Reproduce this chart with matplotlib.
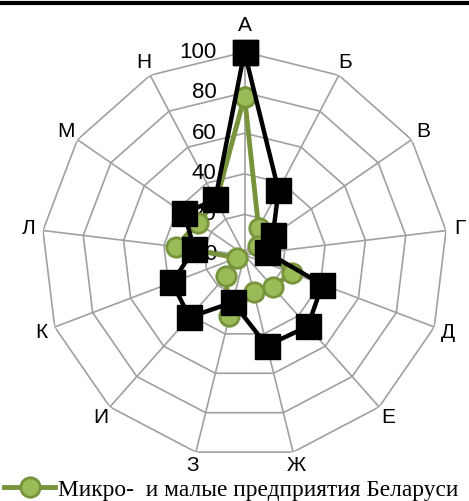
import numpy as np
import matplotlib
matplotlib.use('Agg')
import matplotlib.pyplot as plt
from matplotlib.lines import Line2D

# categories (clockwise from top) and values
categories = ['А', 'Б', 'В', 'Г', 'Д', 'Е', 'Ж', 'З', 'И', 'К', 'Л', 'М', 'Н']
belarus_small = [78, 15, 8, 10, 25, 21, 19, 31, 14, 4, 34, 28, 30]
other_series = [100, 36, 17, 11, 41, 47, 46, 24, 41, 38, 25, 36, 31]
ring_values = [0, 20, 40, 60, 80, 100]
legend_label = 'Микро-  и малые предприятия Беларуси'

GREEN_LINE = '#77933C'
GREEN_FILL = '#9BBB59'
GRID = '#A0A0A0'

W, H = 469, 501
fig = plt.figure(figsize=(W / 100, H / 100), dpi=100)

# polar axes placed so centre sits at (244.5, 255) px with radius 203 px
cx, cy, R = 244.5, 255, 203
ax = fig.add_axes([(cx - R) / W, (H - cy - R) / H, 2 * R / W, 2 * R / H],
                  projection='polar')
ax.set_theta_zero_location('N')
ax.set_theta_direction(-1)
ax.set_ylim(0, 100)
ax.grid(False)
ax.set_xticks([])
ax.set_yticks([])
ax.spines['polar'].set_visible(False)
ax.patch.set_alpha(0)

n = len(categories)
theta = np.arange(n) * 2 * np.pi / n
theta_c = np.append(theta, theta[0])

# polygon grid
for v in ring_values[1:]:
    ax.plot(theta_c, [v] * (n + 1), color=GRID, lw=1.2, zorder=1)
for t in theta:
    ax.plot([t, t], [0, 100], color=GRID, lw=1.2, zorder=1)

# ring labels
for v in ring_values:
    ax.annotate(str(v), xy=(0, v), xytext=(-20, 0), textcoords='offset points',
                ha='right', va='center', fontsize=16, family='Liberation Sans',
                zorder=2)

# category labels
for t, lab in zip(theta, categories):
    r = 107 if t > 0 else 113
    ax.text(t, r, lab, ha='center', va='center', fontsize=15,
            family='Liberation Sans', clip_on=False)

# series
g_vals = np.append(belarus_small, belarus_small[0])
k_vals = np.append(other_series, other_series[0])
green, = ax.plot(theta_c, g_vals, color=GREEN_LINE, lw=3.5, marker='o',
                 markersize=14, markerfacecolor=GREEN_FILL,
                 markeredgecolor=GREEN_LINE, markeredgewidth=2,
                 clip_on=False, zorder=3)
ax.plot(theta_c, k_vals, color='black', lw=3.2, marker='s', markersize=18,
        markerfacecolor='black', markeredgecolor='black', markeredgewidth=1,
        clip_on=False, zorder=4)

# top border line
fig.add_artist(Line2D([0, 1], [1 - 3 / H, 1 - 3 / H], lw=3, color='black',
                      transform=fig.transFigure))

# legend along the bottom edge
fig.legend([green], [legend_label], loc='center left',
           bbox_to_anchor=(4 / W, 1 - 490 / H), frameon=False,
           handlelength=2.2, handletextpad=0.1, borderaxespad=0, borderpad=0,
           prop={'family': 'Liberation Serif', 'size': 16.8})

fig.savefig('out.png', dpi=100)
